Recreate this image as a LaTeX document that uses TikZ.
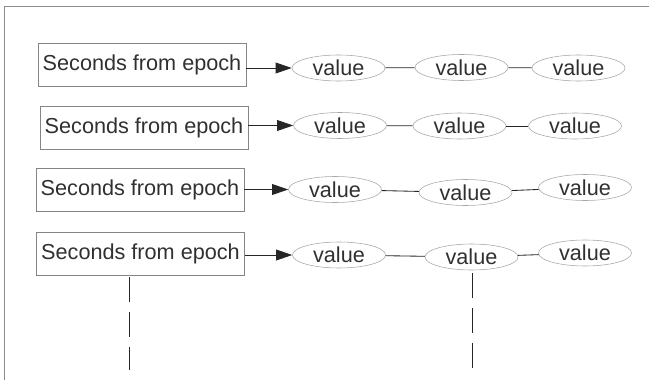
\documentclass[tikz,border=0pt]{standalone}
\usepackage{fontspec}
\setmainfont{Liberation Sans}
\usetikzlibrary{shapes.geometric,arrows.meta}

\definecolor{framegray}{HTML}{8C8C8C}
\definecolor{boxgray}{HTML}{858585}
\definecolor{ellgray}{HTML}{A6A6A6}
\definecolor{textgray}{HTML}{303030}

\begin{document}
\begin{tikzpicture}[
     x = 0.025cm,
     y = -0.025cm,
     font = \fontsize{15.4}{18}\selectfont,
     epoch/.style = {draw = boxgray, text = textgray, minimum width = 5.2cm,
                     minimum height = 1.075cm, inner sep = 0pt},
     val/.style = {ellipse, draw = ellgray, text = textgray, minimum width = 2.325cm,
                   minimum height = 0.65cm, inner sep = 0pt},
     link/.style = {draw = black!85, line width = 0.6pt},
     into/.style = {link, -{Triangle[length=0.4cm, width=0.27cm]}},
     lifeline/.style = {draw = black!85, line width = 0.6pt,
                        dash pattern = on 0.63cm off 0.24cm}
    ]
    \useasboundingbox (0,0) rectangle (649,380);
    \draw[framegray, line width = 0.6pt] (4,380) -- (4,6) -- (649,6);

    % row 1
    \node[epoch] (sec1) at (142,64.5) {Seconds from epoch};
    \node[val] (v11) at (338.5,68) {value};
    \node[val] (v12) at (461.5,67.5) {value};
    \node[val] (v13) at (578.5,68) {value};
    \draw[into] (sec1.east |- v11.west) -- (v11.west);
    \draw[link] (v11) -- (v12);
    \draw[link] (v12) -- (v13);

    % row 2
    \node[epoch] (sec2) at (144,127.5) {Seconds from epoch};
    \node[val] (v21) at (340,125.5) {value};
    \node[val] (v22) at (459.5,126) {value};
    \node[val] (v23) at (575,126) {value};
    \draw[into] (sec2.east |- v21.west) -- (v21.west);
    \draw[link] (v21) -- (v22);
    \draw[link] (v22) -- (v23);

    % row 3
    \node[epoch] (sec3) at (140,190) {Seconds from epoch};
    \node[val] (v31) at (335,189.5) {value};
    \node[val] (v32) at (465.5,192.5) {value};
    \node[val] (v33) at (585,187.5) {value};
    \draw[into] (sec3.east |- v31.west) -- (v31.west);
    \draw[link] (v31) -- (v32);
    \draw[link] (v32) -- (v33);

    % row 4
    \node[epoch] (sec4) at (140.5,253.5) {Seconds from epoch};
    \node[val] (v41) at (339,255) {value};
    \node[val] (v42) at (471.5,257) {value};
    \node[val] (v43) at (585,253) {value};
    \draw[into] (sec4.east |- v41.west) -- (v41.west);
    \draw[link] (v41) -- (v42);
    \draw[link] (v42) -- (v43);

    % tails below the last row
    \coordinate (tailA top) at (129,277);
    \coordinate (tailA end) at (129,370);
    \coordinate (tailB top) at (472,273);
    \coordinate (tailB end) at (472,374);
    \draw[lifeline] (tailA top) -- (tailA end);
    \draw[lifeline] (tailB top) -- (tailB end);
\end{tikzpicture}
\end{document}
